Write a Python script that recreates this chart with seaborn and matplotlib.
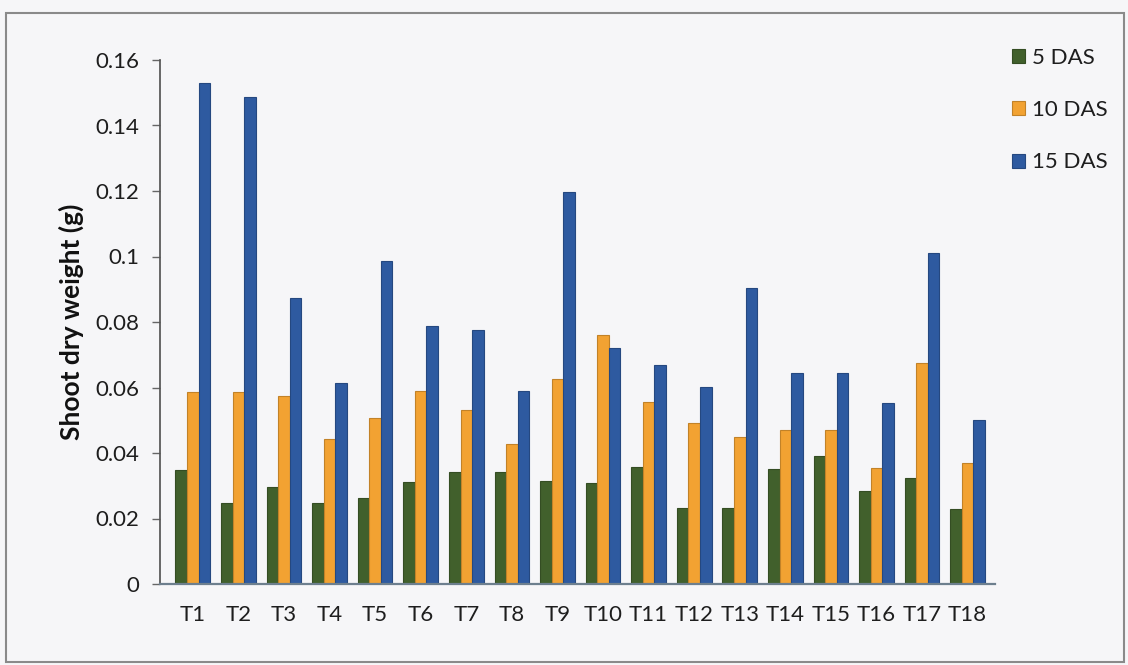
import matplotlib
matplotlib.use("Agg")
import matplotlib.pyplot as plt
from matplotlib.patches import Rectangle
from matplotlib.ticker import FuncFormatter
import seaborn as sns
import pandas as pd

# Treatments and shoot dry weight (g) at three sampling dates
treatments = [f"T{i}" for i in range(1, 19)]
das_5 = [0.0348, 0.0247, 0.0296, 0.0247, 0.0262, 0.0311, 0.0342, 0.0342, 0.0315,
         0.0308, 0.0357, 0.0232, 0.0232, 0.0351, 0.0391, 0.0284, 0.0324, 0.0229]
das_10 = [0.0586, 0.0586, 0.0574, 0.0443, 0.0507, 0.0589, 0.0531, 0.0427, 0.0626,
          0.0760, 0.0556, 0.0492, 0.0450, 0.0470, 0.0470, 0.0354, 0.0675, 0.0370]
das_15 = [0.1530, 0.1486, 0.0873, 0.0614, 0.0986, 0.0788, 0.0776, 0.0589, 0.1197,
          0.0720, 0.0669, 0.0601, 0.0904, 0.0644, 0.0644, 0.0553, 0.1010, 0.0500]
series_names = ["5 DAS", "10 DAS", "15 DAS"]
y_ticks = [0, 0.02, 0.04, 0.06, 0.08, 0.10, 0.12, 0.14, 0.16]

df = pd.DataFrame({
    "Treatment": treatments * 3,
    "Weight": das_5 + das_10 + das_15,
    "Stage": [s for s in series_names for _ in treatments],
})

palette = {"5 DAS": "#41602c", "10 DAS": "#f2a232", "15 DAS": "#2e5aa0"}
bg = "#f6f6f8"
text_col = "#1e1e1e"

sns.set_theme(style="white")
plt.rcParams["font.family"] = ["Lato", "DejaVu Sans"]

fig = plt.figure(figsize=(11.28, 6.65), dpi=100, facecolor=bg)
ax = fig.add_axes([160 / 1128, 81 / 665, 835 / 1128, 524 / 665])
ax.set_facecolor(bg)

sns.barplot(data=df, x="Treatment", y="Weight", hue="Stage",
            hue_order=series_names, palette=palette, width=0.76,
            saturation=1, ax=ax, legend=True)

for bar in ax.patches:
    fc = bar.get_facecolor()
    bar.set_edgecolor(tuple(c * 0.8 for c in fc[:3]))
    bar.set_linewidth(0.8)

ax.set_xlim(-0.72, 17.6)
ax.set_ylim(0, 0.16)
ax.set_yticks(y_ticks)
ax.yaxis.set_major_formatter(FuncFormatter(lambda v, p: f"{v:g}"))
ax.tick_params(axis="y", which="major", left=True, length=6, width=1,
               color="#666666", labelsize=16, pad=9, labelcolor=text_col)
ax.tick_params(axis="x", bottom=False, labelsize=16, pad=9, labelcolor=text_col)
ax.set_xlabel("")
ax.set_ylabel("Shoot dry weight (g)", fontsize=19, fontweight="bold",
              color="#111111", labelpad=8)

for side in ("top", "right"):
    ax.spines[side].set_visible(False)
ax.spines["left"].set_color("#555555")
ax.spines["bottom"].set_color("#6d7f8e")
ax.spines["bottom"].set_linewidth(1.6)

handles, labels = ax.get_legend_handles_labels()
ax.legend_.remove()
fig.legend(handles, labels, loc="upper left", bbox_to_anchor=(992 / 1128, 1 - 28 / 665),
           frameon=False, fontsize=16, handlelength=0.6, handleheight=0.6,
           handletextpad=0.3, labelspacing=1.45, labelcolor=text_col)

# Outer chart border
fig.patches.append(Rectangle((6 / 1128, 3 / 665), 1118 / 1128, 649 / 665,
                             transform=fig.transFigure, fill=False,
                             edgecolor="#8a8a8a", linewidth=1.5))

fig.savefig("out.png", dpi=100, facecolor=bg)
